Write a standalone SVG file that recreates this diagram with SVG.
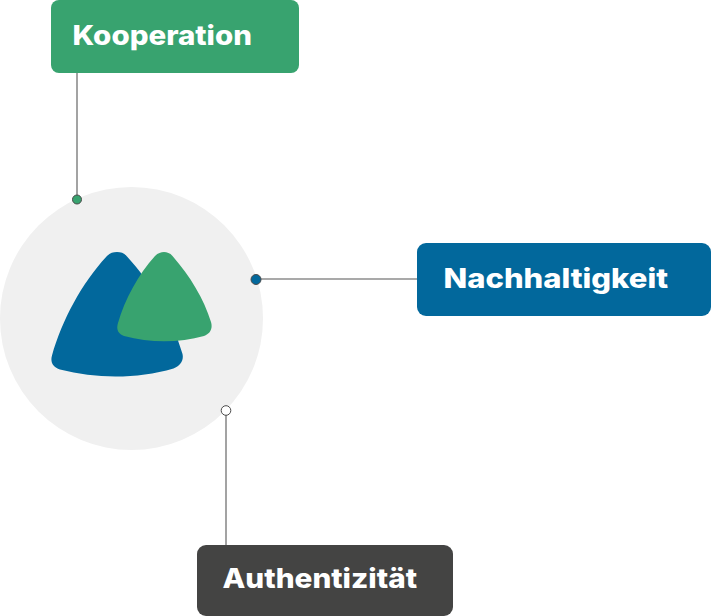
<svg xmlns="http://www.w3.org/2000/svg" width="711" height="616" viewBox="0 0 711 616">
<style>
.lbl{font-family:"Inter","Liberation Sans",sans-serif;font-weight:800;font-size:27px;fill:#fff}
.conn{stroke:#8c8c8c;stroke-width:1.6;fill:none}
.dot{stroke:#4a4a4a;stroke-width:1}
</style>
<rect width="711" height="616" fill="#fff"/>
<g id="hub">
<circle cx="131.500" cy="318.500" r="131.500" fill="#f0f0f0"/>
<path d="M106.500 256.500C110 253 113 252 117 252C121 252 124 253 127 256.500C152 284 172 318 182.500 354C184 361 180 366 173.500 368.500C137 379 97 379 60 369.500C53 367.500 50 362 52 355.500C62 320 82 283 106.500 256.500Z" fill="#02689c"/>
<path d="M155 256C158 253 161 252 164 252C167 252 170 253 172.500 256C190 276 204 299 211 322C213 329 210 334 204 336C179 343 150 343 124 336C118 334 116 329 118 323C125 299 138 275 155 256Z" fill="#38a36f"/>
</g>
<g id="connectors">
<path class="conn" d="M77 73V199"/>
<path class="conn" d="M256 279H417"/>
<path class="conn" d="M226 411V545"/>
</g>
<g id="dot-kooperation"><circle class="dot" cx="77" cy="199.500" r="4.500" fill="#38a36f"/></g>
<g id="dot-nachhaltigkeit"><circle class="dot" cx="256" cy="279.500" r="5" fill="#02689c"/></g>
<g id="dot-authentizitaet"><circle class="dot" cx="226" cy="410.500" r="4.800" fill="#fff"/></g>
<g id="kooperation"><rect x="51" y="0" width="248" height="73" rx="8" fill="#38a36f"/><text class="lbl" x="72.500" y="44.500" textLength="179.500" lengthAdjust="spacingAndGlyphs">Kooperation</text></g>
<g id="nachhaltigkeit"><rect x="417" y="243" width="294" height="73" rx="9" fill="#02689c"/><text class="lbl" x="443.500" y="288" textLength="224.500" lengthAdjust="spacingAndGlyphs">Nachhaltigkeit</text></g>
<g id="authentizitaet"><rect x="197" y="545" width="256" height="71" rx="9" fill="#444443"/><text class="lbl" x="222.500" y="588" textLength="194.500" lengthAdjust="spacingAndGlyphs">Authentizität</text></g>
</svg>
